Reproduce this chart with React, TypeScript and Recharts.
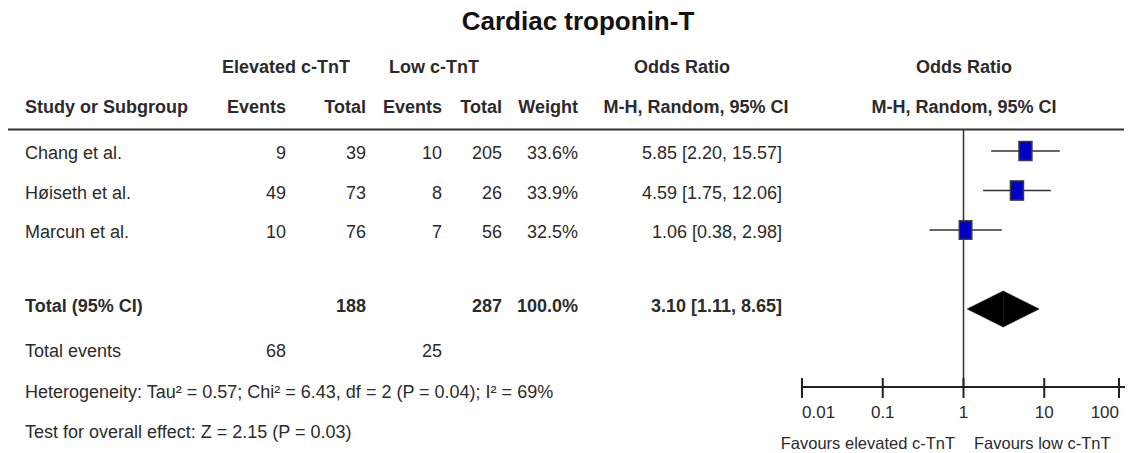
import { ComposedChart, XAxis, YAxis, Scatter, ReferenceLine, ReferenceArea } from "recharts";

// study rows
const studies = ["Chang et al.", "Høiseth et al.", "Marcun et al."];
const elevEvents = [9, 49, 10];
const elevTotal = [39, 73, 76];
const lowEvents = [10, 8, 7];
const lowTotal = [205, 26, 56];
const weights = [33.6, 33.9, 32.5];
const oddsRatio = [5.85, 4.59, 1.06];
const ciLow = [2.2, 1.75, 0.38];
const ciHigh = [15.57, 12.06, 2.98];
const rowPos = [1, 2, 3];

// pooled
const totalRow = 5;
const totalOR = 3.1;
const totalLow = 1.11;
const totalHigh = 8.65;
const totalElevN = 188;
const totalLowN = 287;
const totalWeight = 100;
const eventsElev = 68;
const eventsLow = 25;
const heterogeneity = "Heterogeneity: Tau² = 0.57; Chi² = 6.43, df = 2 (P = 0.04); I² = 69%";
const overallEffect = "Test for overall effect: Z = 2.15 (P = 0.03)";

const xTicks = [0.01, 0.1, 1, 10, 100];
const xTickLabels = ["0.01", "0.1", "1", "10", "100"];

const FONT = "'Liberation Sans', Arial, sans-serif";
const TXT = "#2b2b2b";

const boxData = studies.map((s, i) => ({ name: s, x: oddsRatio[i], y: rowPos[i], w: weights[i] }));

const fmt = (v: number) => v.toFixed(2);

function Box(props: any) {
  const { cx, cy, payload } = props;
  const w = payload.w * 0.385;
  const h = payload.w * 0.565;
  return <rect x={cx - w / 2} y={cy - h / 2} width={w} height={h} fill="#0000c4" stroke="#3a3a3a" strokeWidth={1.5} />;
}

function Tick(props: any) {
  const { x, y, index } = props;
  const anchor = index === 0 ? "start" : index === xTicks.length - 1 ? "end" : "middle";
  return (
    <g>
      <line x1={x} x2={x} y1={y - 9} y2={y + 11} stroke="#222" strokeWidth={2} />
      <text x={x} y={y + 25} textAnchor={anchor} dominantBaseline="central" fontFamily={FONT} fontSize={17} fill={TXT}>
        {xTickLabels[index]}
      </text>
    </g>
  );
}

const leftHalf = (p: any) => (
  <polygon points={`${p.x},${p.y + p.height / 2} ${p.x + p.width},${p.y} ${p.x + p.width},${p.y + p.height}`} fill="#000" stroke="#000" strokeWidth={0.5} />
);
const rightHalf = (p: any) => (
  <polygon points={`${p.x},${p.y} ${p.x + p.width},${p.y + p.height / 2} ${p.x},${p.y + p.height}`} fill="#000" stroke="#000" strokeWidth={0.5} />
);

function T({ x, y, anchor = "start", bold = false, size = 18, fill = TXT, children }: any) {
  return (
    <text x={x} y={y} textAnchor={anchor} dominantBaseline="central" fontFamily={FONT} fontSize={size} fontWeight={bold ? "bold" : "normal"} fill={fill}>
      {children}
    </text>
  );
}

const rowTextY = [153, 192.5, 231.5];

export default function App() {
  return (
    <div style={{ position: "absolute", left: 0, top: 0, width: 1131, height: 453, background: "#fff" }}>
      <ComposedChart width={1131} height={453} margin={{ top: 130, right: 6, bottom: 6, left: 802 }}>
        <XAxis
          dataKey="x"
          type="number"
          scale="log"
          domain={[0.01, 100]}
          ticks={xTicks}
          allowDataOverflow
          height={60}
          tickSize={0}
          tickMargin={0}
          tickLine={false}
          axisLine={{ stroke: "#222", strokeWidth: 2 }}
          tick={<Tick />}
        />
        <YAxis dataKey="y" type="number" domain={[0.468, 6.975]} reversed hide allowDataOverflow width={0} />
        <ReferenceLine x={1} stroke="#333" strokeWidth={1.5} />
        {studies.map((s, i) => (
          <ReferenceLine
            key={s}
            segment={[{ x: ciLow[i], y: rowPos[i] }, { x: ciHigh[i], y: rowPos[i] }]}
            stroke="#333"
            strokeWidth={1.5}
          />
        ))}
        <ReferenceArea x1={totalLow} x2={totalOR} y1={totalRow - 0.456} y2={totalRow + 0.456} shape={leftHalf} />
        <ReferenceArea x1={totalOR} x2={totalHigh} y1={totalRow - 0.456} y2={totalRow + 0.456} shape={rightHalf} />
        <Scatter data={boxData} shape={<Box />} isAnimationActive={false} />
      </ComposedChart>
      <svg width={1131} height={453} style={{ position: "absolute", left: 0, top: 0, pointerEvents: "none" }}>
        <T x={578} y={21} anchor="middle" bold size={26} fill="#111">Cardiac troponin-T</T>

        <T x={286} y={67} anchor="middle" bold>Elevated c-TnT</T>
        <T x={434} y={67} anchor="middle" bold>Low c-TnT</T>
        <T x={682} y={67} anchor="middle" bold>Odds Ratio</T>
        <T x={964} y={67} anchor="middle" bold>Odds Ratio</T>

        <T x={25} y={107} bold>Study or Subgroup</T>
        <T x={286} y={107} anchor="end" bold>Events</T>
        <T x={366} y={107} anchor="end" bold>Total</T>
        <T x={442} y={107} anchor="end" bold>Events</T>
        <T x={502} y={107} anchor="end" bold>Total</T>
        <T x={578} y={107} anchor="end" bold>Weight</T>
        <T x={696} y={107} anchor="middle" bold>M-H, Random, 95% CI</T>
        <T x={964} y={107} anchor="middle" bold>M-H, Random, 95% CI</T>

        <line x1={8} x2={1124} y1={129.5} y2={129.5} stroke="#333" strokeWidth={2} />

        {studies.map((s, i) => (
          <g key={s}>
            <T x={25} y={rowTextY[i]}>{s}</T>
            <T x={286} y={rowTextY[i]} anchor="end">{elevEvents[i]}</T>
            <T x={366} y={rowTextY[i]} anchor="end">{elevTotal[i]}</T>
            <T x={442} y={rowTextY[i]} anchor="end">{lowEvents[i]}</T>
            <T x={502} y={rowTextY[i]} anchor="end">{lowTotal[i]}</T>
            <T x={578} y={rowTextY[i]} anchor="end">{weights[i].toFixed(1)}%</T>
            <T x={782} y={rowTextY[i]} anchor="end">{`${fmt(oddsRatio[i])} [${fmt(ciLow[i])}, ${fmt(ciHigh[i])}]`}</T>
          </g>
        ))}

        <T x={25} y={306} bold>Total (95% CI)</T>
        <T x={366} y={306} anchor="end" bold>{totalElevN}</T>
        <T x={502} y={306} anchor="end" bold>{totalLowN}</T>
        <T x={578} y={306} anchor="end" bold>{totalWeight.toFixed(1)}%</T>
        <T x={782} y={306} anchor="end" bold>{`${fmt(totalOR)} [${fmt(totalLow)}, ${fmt(totalHigh)}]`}</T>

        <T x={25} y={351}>Total events</T>
        <T x={286} y={351} anchor="end">{eventsElev}</T>
        <T x={442} y={351} anchor="end">{eventsLow}</T>

        <T x={25} y={391.5}>{heterogeneity}</T>
        <T x={25} y={431.5}>{overallEffect}</T>

        <T x={955} y={443} anchor="end" size={16.5}>Favours elevated c-TnT</T>
        <T x={974} y={443} size={16.5}>Favours low c-TnT</T>
      </svg>
    </div>
  );
}
